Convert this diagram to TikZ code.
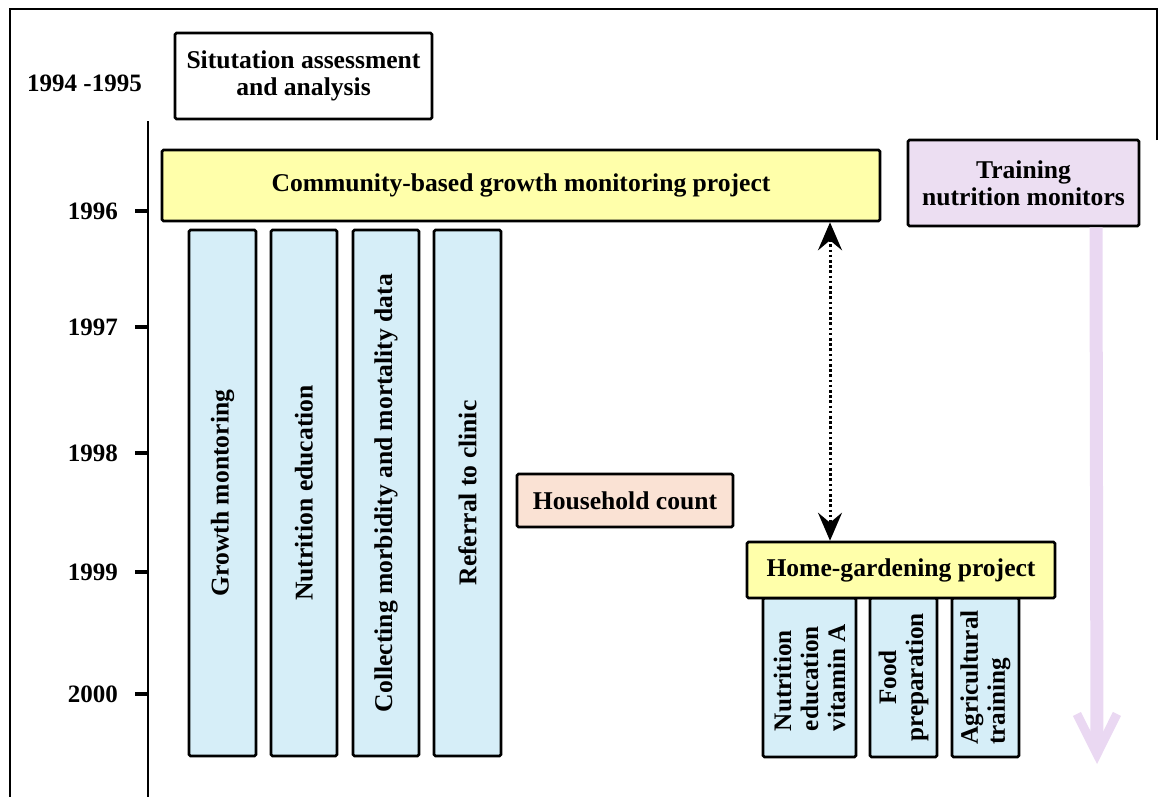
\documentclass[tikz,border=0pt]{standalone}
\usepackage{fontspec}
\setmainfont{Liberation Serif}
\usetikzlibrary{arrows.meta}

\definecolor{projyellow}{RGB}{255,255,170}
\definecolor{actblue}{RGB}{214,238,248}
\definecolor{hhpeach}{RGB}{250,226,212}
\definecolor{trainlilac}{RGB}{236,222,242}
\definecolor{arrowlilac}{RGB}{234,216,242}

\begin{document}
\begin{tikzpicture}[x=1pt,y=-1pt,
  txt/.style={font=\fontsize{25.6}{27}\selectfont\bfseries, text=black},
  box/.style={draw=black, line width=2.6pt, rounded corners=1.5pt,
    inner sep=0pt, txt, align=center},
  project/.style={box, fill=projyellow},
  activity/.style={box, fill=actblue, rotate=90},
  subactivity/.style={activity, minimum width=159,
    font=\fontsize{25.2}{27}\selectfont\bfseries},
  yearlabel/.style={font=\fontsize{25}{27}\selectfont\bfseries,
    inner sep=0pt, anchor=east},
  tick/.style={line width=4pt},
  axis/.style={line width=2.4pt},
  frame/.style={line width=2pt},
  linkarrow/.style={line width=3pt, dash pattern=on 2.6pt off 2.6pt,
    {Stealth[length=28pt,width=24pt,inset=10pt]}-{Stealth[length=28pt,width=24pt,inset=10pt]}},
  trainarrow/.style={arrowlilac, line width=13pt,
    -{Straight Barb[length=40pt,width=40pt,line width=9pt]}}
]
\useasboundingbox (0,0) rectangle (1158,796);

% outer frame of the figure
\draw[frame] (1157,140) -- (1157,9) -- (10,9) -- (10,800);

% time axis with year ticks
\draw[axis] (148,121) -- (148,800);
\node[yearlabel] (y9495) at (142,83) {1994 -1995};
\foreach \yr/\yy in {1996/211, 1997/327, 1998/453, 1999/572, 2000/694}{
  \draw[tick] (135,\yy) -- (147,\yy);
  \node[yearlabel] (y\yr) at (118,\yy) {\yr};
}

% initial assessment
\node[box, minimum width=257, minimum height=86] (assess) at (303.5,76)
  {Situtation assessment\\and analysis};

% growth monitoring project and its activities
\node[activity, minimum width=526, minimum height=67] (gm)   at (222.5,493) {Growth montoring};
\node[activity, minimum width=526, minimum height=66] (ned)  at (304,493) {Nutrition education};
\node[activity, minimum width=526, minimum height=66] (coll) at (386,493) {Collecting morbidity and mortality data};
\node[activity, minimum width=526, minimum height=67] (ref)  at (467.5,493) {Referral to clinic};
\node[project, minimum width=718, minimum height=71] (cgm) at (521,185.5)
  {Community-based growth monitoring project};

% training of monitors
\node[box, fill=trainlilac, minimum width=231, minimum height=86] (train) at (1023.5,183)
  {Training\\nutrition monitors};
\coordinate (tx) at (1096,0);
\coordinate (tend) at (1097,764);
\draw[trainarrow] (train.south -| tx) -- (tend);

% household count
\node[box, fill=hhpeach, minimum width=216, minimum height=53] (hh) at (625,500.5)
  {Household count};

% home-gardening project and its activities
\node[subactivity, minimum height=93, align=left] (nev) at (809.5,677.5)
  {Nutrition\\education\\vitamin A};
\node[subactivity, minimum height=67] (food) at (903.5,677.5)
  {Food\\preparation};
\node[subactivity, minimum height=67, align=left] (agri) at (985.5,677.5)
  {Agricultural\\training};
\node[project, minimum width=308, minimum height=56] (hg) at (901,570)
  {Home-gardening project};

% link between the two projects
\coordinate (lx) at (830,0);
\draw[linkarrow] (cgm.south -| lx) -- (hg.north -| lx);
\end{tikzpicture}
\end{document}
